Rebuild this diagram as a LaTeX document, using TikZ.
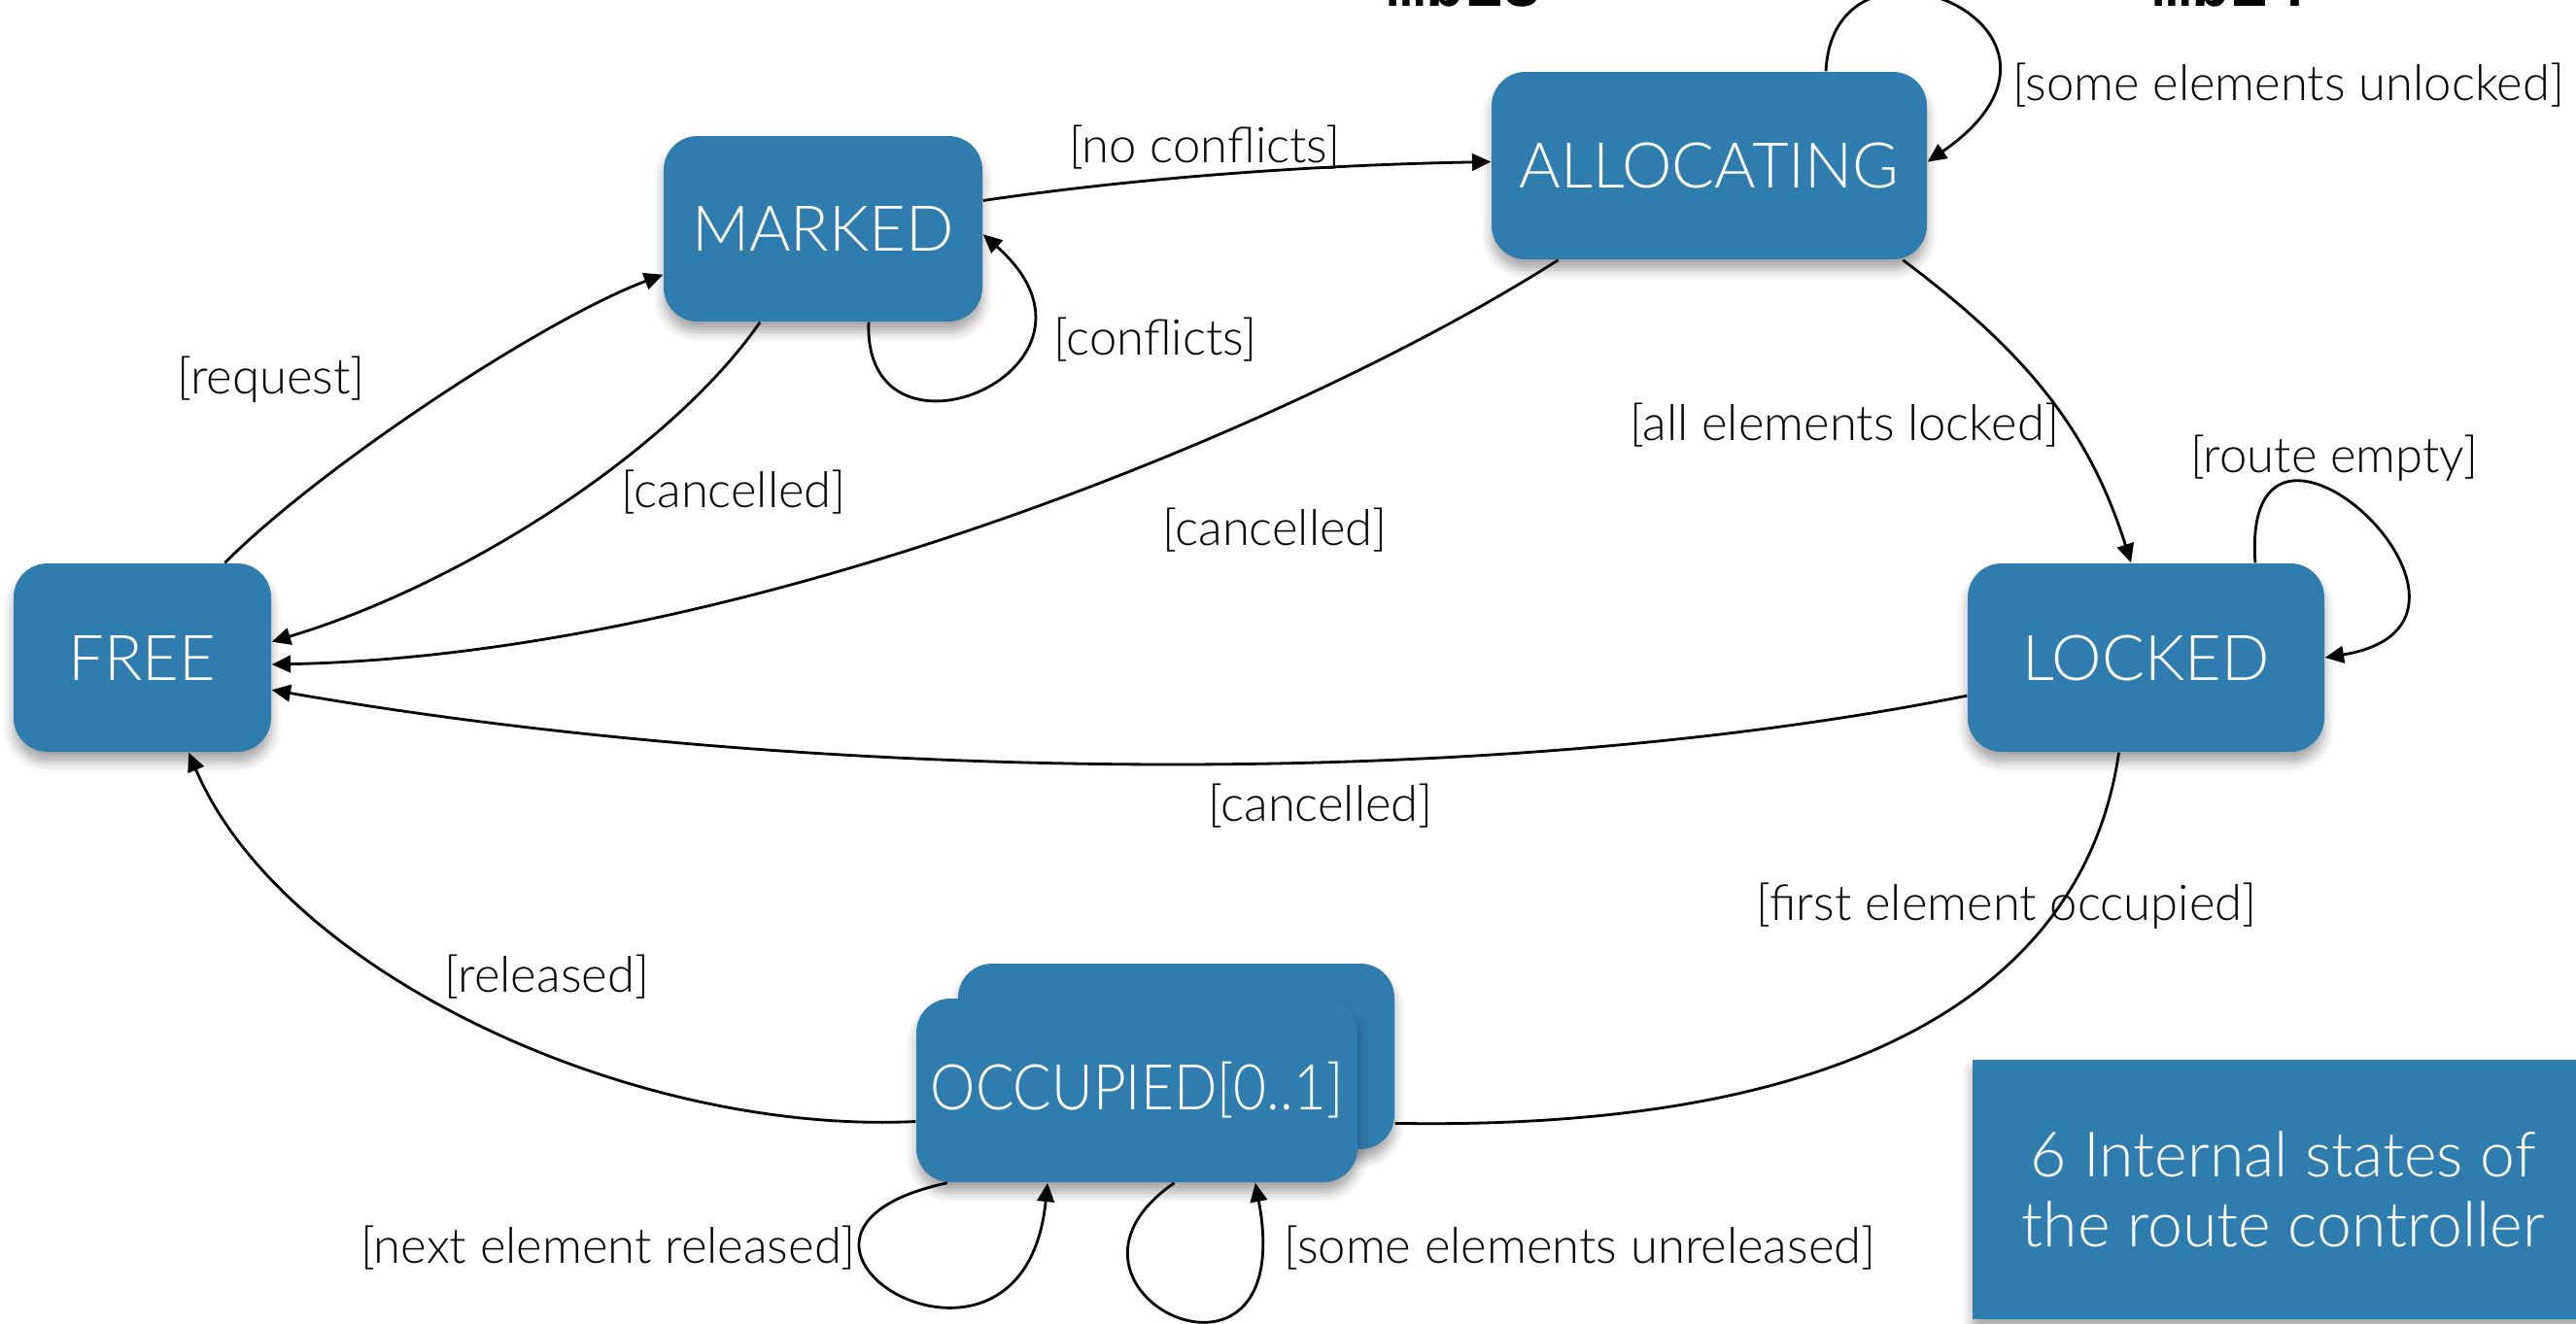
\documentclass[tikz,border=0pt]{standalone}
\usepackage{fontspec}
\setmainfont{Lato}[UprightFont=* Light]
\newfontfamily\statefont{Lato}[UprightFont=* Light]
\newfontfamily\narrowstatefont{Lato}[UprightFont=* Light, FakeStretch=0.9]
\newfontfamily\signalfont{Liberation Mono}
\usetikzlibrary{arrows.meta,shadows.blur}
\definecolor{paperblue}{RGB}{47,124,174}

\tikzset{
  boxshadow/.style={blur shadow={shadow xshift=0pt,shadow yshift=-3pt,shadow blur radius=3pt,shadow opacity=35}},
  statebox/.style={rounded corners=0.35cm, fill=paperblue, text=white, inner sep=0pt,
    font=\statefont\fontsize{18.5}{22}\selectfont, boxshadow},
  narrowtext/.style={font=\narrowstatefont\fontsize{18.5}{22}\selectfont},
  infobox/.style={fill=paperblue, text=white, inner sep=0pt, align=center,
    font=\fontsize{18.3}{20.3}\selectfont, boxshadow},
  guard/.style={inner sep=0pt, font=\fontsize{14.45}{17}\selectfont},
  signame/.style={anchor=base, inner sep=0pt, font=\signalfont\bfseries\fontsize{18.9}{20}\selectfont},
  wire/.style={line width=0.8pt},
  transarrow/.style={wire, -{Triangle[length=5.5pt,width=5pt]}},
}

\begin{document}
\begin{tikzpicture}
\useasboundingbox (0,0) rectangle (26.51,-13.62);
\clip (0,0) rectangle (26.51,-13.62);

% signal names running along the top edge
\node[signame] (sig13) at (15.07,-0.06) {mb13};
\node[signame] (sig24) at (22.95,-0.06) {mb24};

% states
\node[statebox, minimum width=2.65cm, minimum height=1.94cm] (F) at (1.465,-6.77) {FREE};
\node[statebox, minimum width=3.28cm, minimum height=1.91cm] (M) at (8.47,-2.355) {MARKED};
\node[statebox, minimum width=4.48cm, minimum height=1.93cm] (A) at (17.59,-1.705) {ALLOCATING};
\node[statebox, minimum width=3.67cm, minimum height=1.94cm] (L) at (22.085,-6.77) {LOCKED};
\node[statebox, minimum width=4.49cm, minimum height=1.91cm] (Oback) at (12.105,-10.875) {};
\node[statebox, narrowtext, minimum width=4.54cm, minimum height=1.89cm] (O) at (11.70,-11.225) {OCCUPIED[0..1]};

% caption box
\node[infobox, anchor=north west, minimum width=6.4cm, minimum height=2.67cm] (info)
  at (20.29,-10.90) {6 Internal states of\\the route controller};

% transitions
\draw[transarrow] (F.49) .. controls +(1.0,1.0) and +(-1.23,-0.46) .. (M.196);
\draw[transarrow] (M.236) .. controls +(-0.9,-1.3) and +(2.0,0.6) .. (F.7);
\draw[transarrow] (M.-64) .. controls +(-0.06,-1.65) and +(1.56,-1.38) .. (M.-2);
\draw[transarrow] (M.10) .. controls +(1.7,0.25) and +(-1.7,-0.03) .. (A.179);
\draw[transarrow] (A.39.5) .. controls +(0.08,1.68) and +(1.98,1.37) .. (A.1);
\draw[transarrow] (A.212) .. controls +(-2.5,-1.6) and +(5.0,0.1) .. (F.-3);
\draw[transarrow] (A.-26) .. controls +(1.2,-0.9) and +(-0.45,1.43) .. (L.99);
\draw[transarrow] (L.41) .. controls +(-0.16,2.23) and +(2.19,0.36) .. (L.0);
\draw[transarrow] (L.192) .. controls +(-5.25,-1.05) and +(5.16,-0.9) .. (F.-14);
\draw[wire] (L.254) .. controls +(-0.31,-2.16) and +(5.15,-0.09) .. (Oback.-17);
\draw[transarrow] (O.188) .. controls +(-2.93,-0.14) and +(0.96,-2.26) .. (F.-64);
\draw[transarrow] (O.206) .. controls +(-2.44,-0.53) and +(-0.25,-2.5) .. (O.226);
\draw[transarrow] (O.-68) .. controls +(-1.59,-1.1) and +(0.47,-2.5) .. (O.-38);

% guards
\node[guard] (gReq) at (2.79,-3.91) {[request]};
\node[guard] (gCanM) at (7.55,-5.07) {[cancelled]};
\node[guard] (gConf) at (11.89,-3.50) {[conflicts]};
\node[guard] (gNoConf) at (12.40,-1.52) {[no conflicts]};
\node[guard] (gUnl) at (23.55,-0.88) {[some elements unlocked]};
\node[guard] (gCanA) at (13.12,-5.46) {[cancelled]};
\node[guard] (gLocked) at (18.98,-4.38) {[all elements locked]};
\node[guard] (gEmpty) at (24.02,-4.72) {[route empty]};
\node[guard] (gCanL) at (13.59,-8.30) {[cancelled]};
\node[guard] (gFirst) at (20.65,-9.33) {[first element occupied]};
\node[guard] (gRel) at (5.63,-10.06) {[released]};
\node[guard] (gNext) at (6.26,-12.85) {[next element released]};
\node[guard] (gUnrel) at (16.26,-12.85) {[some elements unreleased]};
\end{tikzpicture}
\end{document}
